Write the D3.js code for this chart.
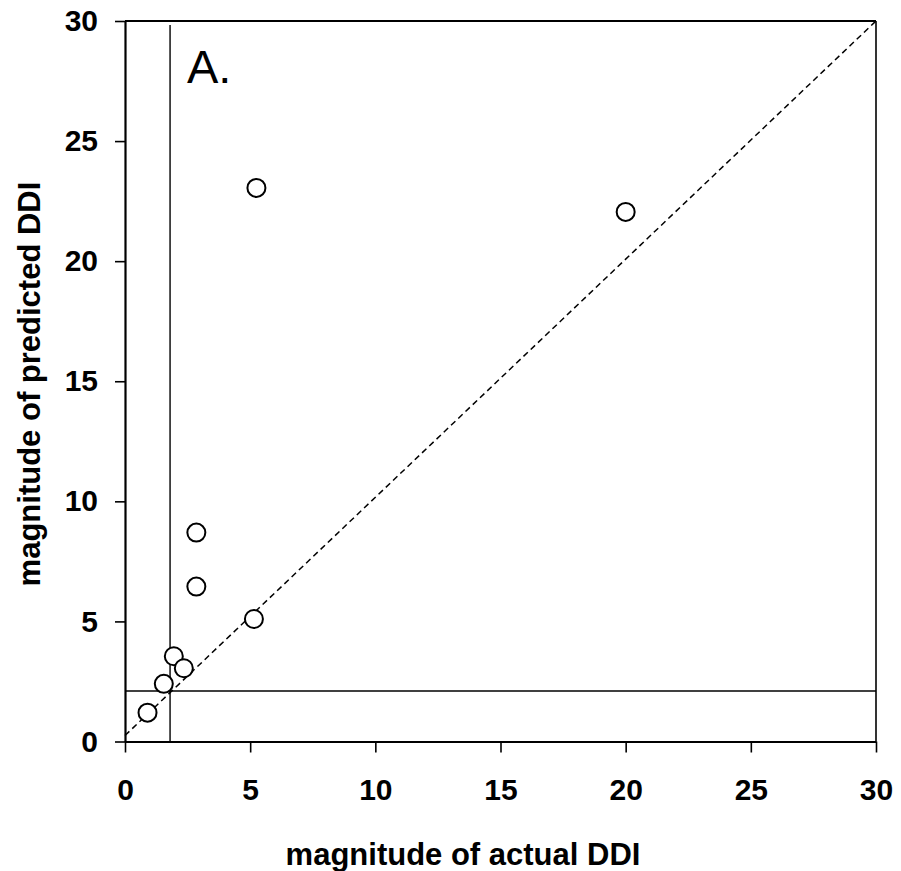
<!DOCTYPE html>
<html>
<head>
<meta charset="utf-8">
<script src="https://cdn.jsdelivr.net/npm/d3@7"></script>
<style>
  body { margin: 0; background: #fff; }
  text { font-family: Arial, "Liberation Sans", sans-serif; }
</style>
</head>
<body>
<div id="chart"></div>
<script>
// observed vs predicted DDI magnitude
var actual    = [0.9, 1.55, 1.95, 2.35, 2.85, 2.85, 5.15, 5.25, 20.0]
var predicted = [1.2, 2.4, 3.55, 3.05, 6.45, 8.7, 5.1, 23.05, 22.05]
var ticks = [0, 5, 10, 15, 20, 25, 30]
var cutX = 1.8, cutY = 2.1
var unityLine = [[0, 0.25], [30, 30]]

var width = 901,
    height = 871

var svg = d3.select("#chart").append("svg")
    .attr("width", width)
    .attr("height", height)

var x = d3.scaleLinear().domain([0, 30]).range([125, 876])
var y = d3.scaleLinear().domain([0, 30]).range([741.5, 21])

// axes
svg.append("g")
    .attr("transform", "translate(0," + y(0) + ")")
    .call(d3.axisBottom(x).tickValues(ticks).tickSize(11).tickPadding(26).tickSizeOuter(0))
    .call(g => g.selectAll("text").attr("font-size", 30).attr("font-weight", "bold"))

svg.append("g")
    .attr("transform", "translate(" + x(0) + ",0)")
    .call(d3.axisLeft(y).tickValues(ticks).tickSize(10).tickPadding(17).tickSizeOuter(0))
    .call(g => g.selectAll("text").attr("font-size", 30).attr("font-weight", "bold"))

svg.selectAll(".domain").attr("stroke-width", 2.2)
svg.selectAll(".tick line").attr("stroke-width", 1.6)

// top and right frame
svg.append("line")
    .attr("x1", x(0)).attr("x2", x(30))
    .attr("y1", y(30)).attr("y2", y(30))
    .attr("stroke", "black").attr("stroke-width", 2)
svg.append("line")
    .attr("x1", x(30)).attr("x2", x(30))
    .attr("y1", y(30)).attr("y2", y(0))
    .attr("stroke", "black").attr("stroke-width", 1.6)

// cut-off lines
svg.append("line")
    .attr("x1", x(cutX)).attr("x2", x(cutX))
    .attr("y1", y(29.83)).attr("y2", y(0))
    .attr("stroke", "black").attr("stroke-width", 1.4)
svg.append("line")
    .attr("x1", x(0)).attr("x2", x(30))
    .attr("y1", y(cutY)).attr("y2", y(cutY))
    .attr("stroke", "black").attr("stroke-width", 1.4)

// line of unity
svg.append("path")
    .datum(unityLine)
    .attr("d", d3.line().x(d => x(d[0])).y(d => y(d[1])))
    .attr("fill", "none")
    .attr("stroke", "black")
    .attr("stroke-width", 1.5)
    .attr("stroke-dasharray", "6,4")

// points
svg.append("g")
    .selectAll("circle")
    .data(actual)
    .enter()
    .append("circle")
    .attr("cx", d => x(d))
    .attr("cy", (d, i) => y(predicted[i]))
    .attr("r", 9)
    .attr("fill", "white")
    .attr("stroke", "black")
    .attr("stroke-width", 2)

// panel label
svg.append("text")
    .attr("x", 187)
    .attr("y", 83)
    .attr("font-size", 47)
    .text("A.")

// axis titles
svg.append("text")
    .attr("x", 463)
    .attr("y", 865)
    .attr("text-anchor", "middle")
    .attr("font-size", 31)
    .attr("font-weight", "bold")
    .text("magnitude of actual DDI")

svg.append("text")
    .attr("transform", "translate(40,384) rotate(-90)")
    .attr("text-anchor", "middle")
    .attr("font-size", 31)
    .attr("font-weight", "bold")
    .text("magnitude of predicted DDI")
</script>
</body>
</html>
